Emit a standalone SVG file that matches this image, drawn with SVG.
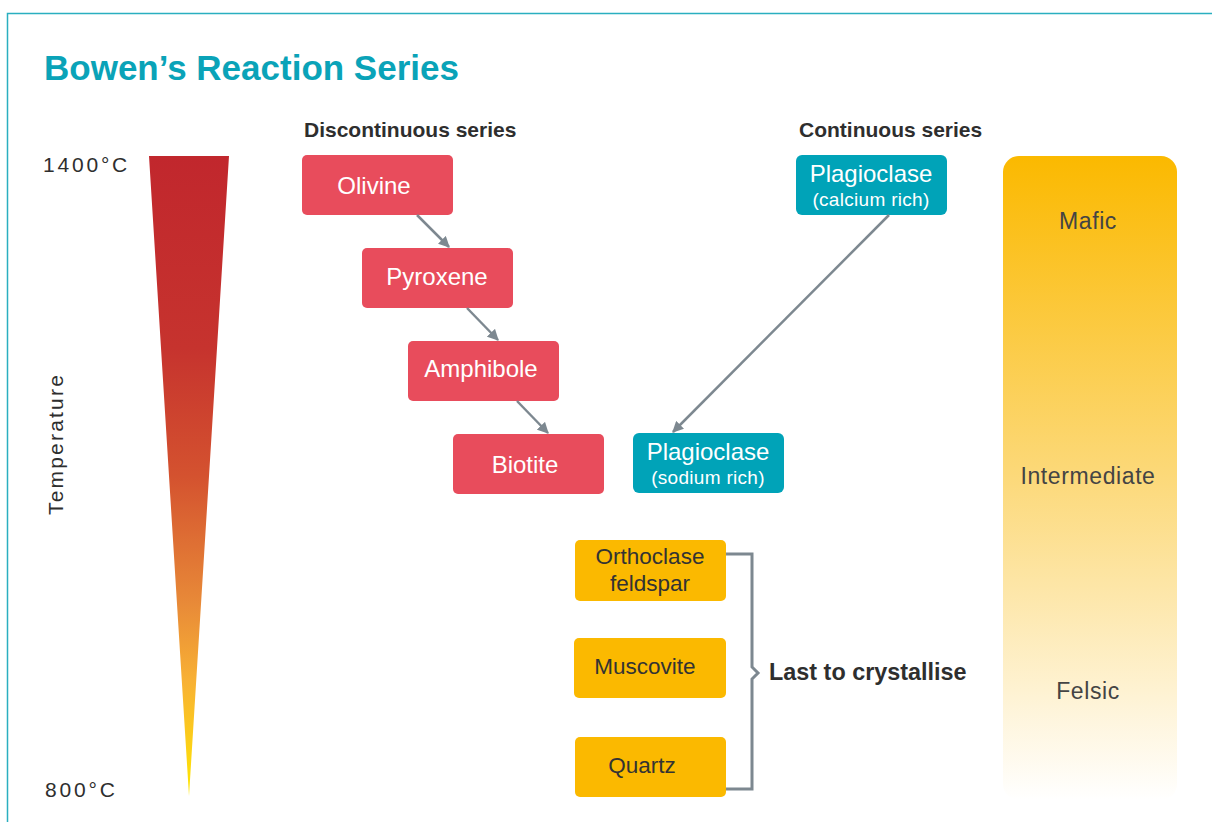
<svg xmlns="http://www.w3.org/2000/svg" width="1212" height="822" viewBox="0 0 1212 822">
<defs>
<style>
text{font-family:"Liberation Sans",Arial,sans-serif}
.title{font-size:35px;font-weight:bold;fill:#0aa3b8}
.hdr{font-size:21px;font-weight:bold;fill:#2e2e2e}
.temp{font-size:21px;fill:#2e2e2e;letter-spacing:2.8px}
.tlab{font-size:21px;fill:#2e2e2e;letter-spacing:2.2px;text-anchor:middle}
.red{fill:#e84c5c}
.teal{fill:#00a3b8}
.amber{fill:#fbb900}
.wt{fill:#fff;font-size:24px;text-anchor:middle}
.ws{fill:#fff;font-size:19px;text-anchor:middle;letter-spacing:0.3px}
.dt{fill:#333;font-size:22.5px;text-anchor:middle}
.bt{fill:#444;font-size:23px;letter-spacing:0.6px;text-anchor:middle}
.conn{stroke:#7d8890;stroke-width:2.5;fill:none}
</style>
<linearGradient id="tg" x1="0" y1="0" x2="0" y2="1">
<stop offset="0" stop-color="#c1272d"/>
<stop offset="0.3" stop-color="#c6332e"/>
<stop offset="0.5" stop-color="#d4522f"/>
<stop offset="0.7" stop-color="#e88a38"/>
<stop offset="0.82" stop-color="#f8b134"/>
<stop offset="1" stop-color="#ffe800"/>
</linearGradient>
<linearGradient id="bg" x1="0" y1="0" x2="0" y2="1">
<stop offset="0" stop-color="#fbb900"/>
<stop offset="0.5" stop-color="#fcd97a"/>
<stop offset="1" stop-color="#ffffff"/>
</linearGradient>
<marker id="ah" viewBox="0 0 10 10" refX="9" refY="5" markerWidth="4.5" markerHeight="4.5" orient="auto" markerUnits="strokeWidth">
<path d="M0,0 L10,5 L0,10 Z" fill="#7d8890"/>
</marker>
</defs>
<rect width="1212" height="822" fill="#fff"/>
<path d="M7.5,822 V13.5 H1212" fill="none" stroke="#2aafc0" stroke-width="1.5"/>
<text class="title" x="44" y="80">Bowen’s Reaction Series</text>
<text class="hdr" x="304" y="137">Discontinuous series</text>
<text class="hdr" x="799" y="137">Continuous series</text>
<g id="temperature">
<polygon points="149,156 229,156 189,796" fill="url(#tg)"/>
<text class="temp" x="43" y="172">1400°C</text>
<text class="temp" x="45" y="797">800°C</text>
<text class="tlab" transform="translate(63,444) rotate(-90)">Temperature</text>
</g>
<g id="composition">
<rect x="1003" y="156" width="174" height="644" rx="16" fill="url(#bg)"/>
<text class="bt" x="1088" y="229">Mafic</text>
<text class="bt" x="1088" y="484">Intermediate</text>
<text class="bt" x="1088" y="699">Felsic</text>
</g>
<g id="olivine"><rect class="red" x="302" y="155" width="151" height="60" rx="5"/><text class="wt" x="374" y="194">Olivine</text></g>
<g id="pyroxene"><rect class="red" x="362" y="248" width="151" height="60" rx="5"/><text class="wt" x="437" y="285">Pyroxene</text></g>
<g id="amphibole"><rect class="red" x="408" y="341" width="151" height="60" rx="5"/><text class="wt" x="481" y="377">Amphibole</text></g>
<g id="biotite"><rect class="red" x="453" y="434" width="151" height="60" rx="5"/><text class="wt" x="525" y="473">Biotite</text></g>
<g id="plag-ca"><rect class="teal" x="796" y="155" width="151" height="60" rx="6"/><text class="wt" x="871" y="182">Plagioclase</text><text class="ws" x="871" y="206">(calcium rich)</text></g>
<g id="plag-na"><rect class="teal" x="633" y="433" width="151" height="60" rx="6"/><text class="wt" x="708" y="460">Plagioclase</text><text class="ws" x="708" y="484">(sodium rich)</text></g>
<g id="orthoclase"><rect class="amber" x="575" y="540" width="151" height="61" rx="5"/><text class="dt" x="650" y="564">Orthoclase</text><text class="dt" x="650" y="591">feldspar</text></g>
<g id="muscovite"><rect class="amber" x="574" y="638" width="152" height="60" rx="5"/><text class="dt" x="645" y="674">Muscovite</text></g>
<g id="quartz"><rect class="amber" x="575" y="737" width="151" height="60" rx="5"/><text class="dt" x="642" y="773">Quartz</text></g>
<g id="connectors">
<line class="conn" x1="417" y1="215" x2="449" y2="247" marker-end="url(#ah)"/>
<line class="conn" x1="467" y1="308" x2="498" y2="340" marker-end="url(#ah)"/>
<line class="conn" x1="517" y1="401" x2="548" y2="433" marker-end="url(#ah)"/>
<line class="conn" x1="889" y1="215" x2="673" y2="432" marker-end="url(#ah)"/>
<path d="M726,554 H752 V667 L758,673 L752,679 V789 H726" fill="none" stroke="#7d8890" stroke-width="3"/>
</g>
<text x="769" y="680" font-size="23.4" font-weight="bold" fill="#2e2e2e">Last to crystallise</text>
</svg>
